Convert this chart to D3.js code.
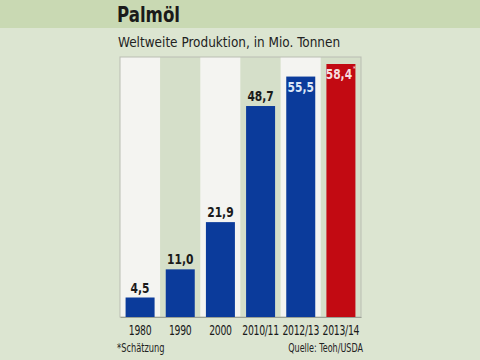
<!DOCTYPE html>
<html><head><meta charset="utf-8">
<script src="https://cdn.jsdelivr.net/npm/d3@7"></script>
<style>body{margin:0;background:#dce5d1;}svg{display:block;}</style>
</head><body>
<script>
const categories = ["1980","1990","2000","2010/11","2012/13","2013/14"];
const values = [4.5, 11.0, 21.9, 48.7, 55.5, 58.4];
const labels = ["4,5","11,0","21,9","48,7","55,5","58,4"];
const estimate = [false,false,false,false,false,true];

const W=480,H=360;
const svg=d3.select("body").append("svg").attr("width",W).attr("height",H);
const font="'DejaVu Sans Condensed','DejaVu Sans',sans-serif";
function txt(parent,x0,y0,sx,str,size,opts={}){
  const t=parent.append("text").attr("transform",`translate(${x0},${y0}) scale(${sx},1)`)
    .attr("font-family",font).attr("font-size",size).attr("fill",opts.fill||"#1a1a1a")
    .attr("font-weight",opts.bold?"bold":"normal").attr("text-anchor",opts.anchor||"start").text(str);
  return t;
}
svg.append("rect").attr("width",W).attr("height",H).attr("fill","#dce5d1");
svg.append("rect").attr("width",W).attr("height",28).attr("fill","#c9d9b3");
txt(svg,117,22,0.84,"Palmöl",22,{bold:true});
txt(svg,118,47,0.96,"Weltweite Produktion, in Mio. Tonnen",14,{fill:"#222"});

const pLeft=120,pRight=361,pTop=57,pBottom=317;
const x=d3.scaleBand().domain(categories).range([pLeft,pRight]).paddingInner(0).paddingOuter(0);
const y=d3.scaleLinear().domain([0,58.4]).range([pBottom,64]);

const g=svg.append("g");
g.selectAll("rect.col").data(categories).join("rect").attr("class","col")
  .attr("x",d=>x(d)).attr("y",pTop).attr("width",x.bandwidth()).attr("height",pBottom-pTop)
  .attr("fill",(d,i)=>i%2===0?"#f4f4f1":"#d5dfc9");
g.append("rect").attr("x",pLeft).attr("y",pTop).attr("width",pRight-pLeft).attr("height",pBottom-pTop)
  .attr("fill","none").attr("stroke","#b9bdb3").attr("stroke-width",1);

const bw=29;
g.selectAll("rect.bar").data(values).join("rect").attr("class","bar")
  .attr("x",(d,i)=>x(categories[i])+(x.bandwidth()-bw)/2).attr("width",bw)
  .attr("y",d=>y(d)).attr("height",d=>pBottom-y(d))
  .attr("fill",(d,i)=>estimate[i]?"#c20a12":"#0b3b9b");

values.forEach((d,i)=>{
  const cx=x(categories[i])+x.bandwidth()/2;
  const inside=i>=4;
  const off=estimate[i]?-2:0;
  txt(g,cx+off,inside?y(d)+15:y(d)-5,0.85,labels[i],14,{bold:true,anchor:"middle",
    fill:i===4?"#dbe6f7":i===5?"#f6dede":"#1a1a1a"});
  if(estimate[i]) txt(g,cx+13.5,y(d)+7,1,"*",7,{anchor:"middle",fill:"#f6dede"});
});

const ax=svg.append("g").attr("transform",`translate(0,${pBottom})`).call(d3.axisBottom(x).tickSize(0).tickPadding(0));
ax.select(".domain").attr("stroke","#9aa094");
ax.selectAll(".tick text").attr("dy",null).attr("y",null)
  .attr("transform","translate(0,18) scale(0.74,1)")
  .attr("letter-spacing",-0.4)
  .attr("font-family",font).attr("font-size",14).attr("fill","#1a1a1a");

txt(svg,117,352,0.8,"*Schätzung",11.5,{fill:"#222"});
txt(svg,363,352,0.78,"Quelle: Teoh/USDA",11.5,{fill:"#222",anchor:"end"});
</script>
</body></html>
